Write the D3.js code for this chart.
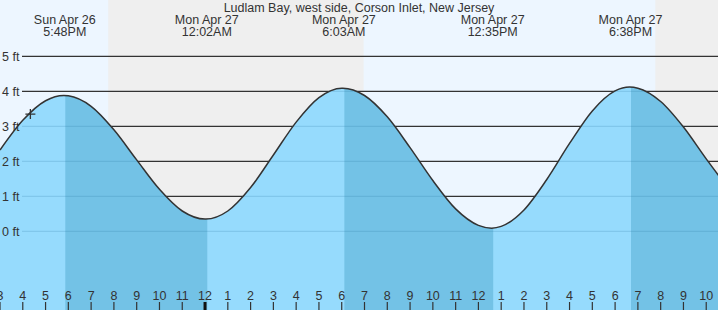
<!DOCTYPE html>
<html>
<head>
<meta charset="utf-8">
<script src="https://cdn.jsdelivr.net/npm/d3@7"></script>
<style>
  body { margin: 0; background: #fff; }
  svg { display: block; font-family: "Liberation Sans", Arial, sans-serif; }
  .lbl { fill: #333; font-size: 12.5px; }
</style>
</head>
<body>
<script>
// tide data (hourly, feet)
const tideTimes = [
  "2026-04-26T15:00", "2026-04-26T16:00", "2026-04-26T17:00", "2026-04-26T18:00",
  "2026-04-26T19:00", "2026-04-26T20:00", "2026-04-26T21:00", "2026-04-26T22:00",
  "2026-04-26T23:00", "2026-04-27T00:00", "2026-04-27T01:00", "2026-04-27T02:00",
  "2026-04-27T03:00", "2026-04-27T04:00", "2026-04-27T05:00", "2026-04-27T06:00",
  "2026-04-27T07:00", "2026-04-27T08:00", "2026-04-27T09:00", "2026-04-27T10:00",
  "2026-04-27T11:00", "2026-04-27T12:00", "2026-04-27T13:00", "2026-04-27T14:00",
  "2026-04-27T15:00", "2026-04-27T16:00", "2026-04-27T17:00", "2026-04-27T18:00",
  "2026-04-27T19:00", "2026-04-27T20:00", "2026-04-27T21:00", "2026-04-27T22:00",
  "2026-04-27T23:00"
];
const tideHeights = [
  2.32, 3.17, 3.73, 3.87,
  3.57, 2.90, 2.04, 1.20,
  0.58, 0.35, 0.58, 1.25,
  2.18, 3.12, 3.82, 4.09,
  3.88, 3.27, 2.39, 1.45,
  0.64, 0.17, 0.14, 0.61,
  1.48, 2.51, 3.44, 4.01,
  4.09, 3.71, 2.98, 2.07,
  1.20
];

// high / low tides
const eventTimes = ["2026-04-26T17:48", "2026-04-27T00:02", "2026-04-27T06:03", "2026-04-27T12:35", "2026-04-27T18:38"];
const eventHeights = [3.88, 0.35, 4.09, 0.09, 4.12];
const eventDays = ["Sun Apr 26", "Mon Apr 27", "Mon Apr 27", "Mon Apr 27", "Mon Apr 27"];
const eventLabels = ["5:48PM", "12:02AM", "6:03AM", "12:35PM", "6:38PM"];

// night (sunset -> sunrise)
const nightStart = ["2026-04-26T19:45", "2026-04-27T19:46"];
const nightEnd = ["2026-04-27T06:05", "2026-04-27T23:59"];

const feetTicks = [0, 1, 2, 3, 4, 5];
const nowTime = "2026-04-26T16:20";
const nowHeight = 3.35;
const title = "Ludlam Bay, west side, Corson Inlet, New Jersey";

const W = 718, H = 310;
const parse = d3.timeParse("%Y-%m-%dT%H:%M");

const x = d3.scaleTime()
  .domain([parse("2026-04-26T15:00"), parse("2026-04-27T22:31")])
  .range([0, W]);
const y = d3.scaleLinear()
  .domain([0, 5])
  .range([231.3, 56.3]);

let pts = tideTimes.map((t, i) => [parse(t), tideHeights[i]])
  .concat(eventTimes.map((t, i) => [parse(t), eventHeights[i]]));
pts.sort((a, b) => a[0] - b[0]);

const svg = d3.select("body").append("svg")
  .attr("width", W)
  .attr("height", H);

// day background
svg.append("rect")
  .attr("width", W).attr("height", H)
  .attr("fill", "#edf6ff");

// night bands
nightStart.forEach((s, i) => {
  svg.append("rect")
    .attr("x", x(parse(s)))
    .attr("y", 0)
    .attr("width", x(parse(nightEnd[i])) - x(parse(s)) + 20)
    .attr("height", H)
    .attr("fill", "#efefef");
});

// gridlines
svg.append("g")
  .selectAll("line")
  .data(feetTicks)
  .enter().append("line")
  .attr("x1", 22).attr("x2", W)
  .attr("y1", d => y(d)).attr("y2", d => y(d))
  .attr("stroke", "#333")
  .attr("stroke-width", 1.2);

// water
const area = d3.area()
  .x(d => x(d[0]))
  .y0(H)
  .y1(d => y(d[1]))
  .curve(d3.curveMonotoneX);
const line = d3.line()
  .x(d => x(d[0]))
  .y(d => y(d[1]))
  .curve(d3.curveMonotoneX);

svg.append("clipPath")
  .attr("id", "water")
  .append("path")
  .datum(pts)
  .attr("d", area);

const water = svg.append("g").attr("clip-path", "url(#water)");
water.append("rect")
  .attr("width", W).attr("height", H)
  .attr("fill", "#96dbfd");

// falling tide is darker (high -> next low)
for (let i = 0; i < eventTimes.length; i++) {
  if (eventHeights[i] > 2) {
    const a = x(parse(eventTimes[i])) + 1.5;
    const b = i + 1 < eventTimes.length ? x(parse(eventTimes[i + 1])) + 1.5 : W;
    water.append("rect")
      .attr("x", a).attr("y", 0)
      .attr("width", b - a).attr("height", H)
      .attr("fill", "#73c2e6");
  }
}

// faint gridlines through the water
water.append("g")
  .selectAll("line")
  .data(feetTicks)
  .enter().append("line")
  .attr("x1", 22).attr("x2", W)
  .attr("y1", d => y(d)).attr("y2", d => y(d))
  .attr("stroke", "#1f6e99")
  .attr("stroke-opacity", 0.18)
  .attr("stroke-width", 1.2);

svg.append("path")
  .datum(pts)
  .attr("d", line)
  .attr("fill", "none")
  .attr("stroke", "#333")
  .attr("stroke-width", 1.5);

// y labels
svg.append("g")
  .selectAll("text")
  .data(feetTicks)
  .enter().append("text")
  .attr("class", "lbl")
  .attr("x", 2)
  .attr("y", d => y(d) + 4.5)
  .text(d => d + " ft");

// title and tide labels
svg.append("text")
  .attr("class", "lbl")
  .attr("x", W / 2).attr("y", 11.5)
  .attr("text-anchor", "middle")
  .attr("font-size", "13.6px")
  .text(title);

eventTimes.forEach((t, i) => {
  const tx = x(parse(t)) + 1;
  svg.append("text")
    .attr("class", "lbl")
    .attr("x", tx).attr("y", 24)
    .attr("text-anchor", "middle")
    .attr("font-size", "13px")
    .text(eventDays[i]);
  svg.append("text")
    .attr("class", "lbl")
    .attr("x", tx).attr("y", 36)
    .attr("text-anchor", "middle")
    .attr("font-size", "13px")
    .text(eventLabels[i]);
});

// current time marker
const nx = x(parse(nowTime)), ny = y(nowHeight);
svg.append("path")
  .attr("d", `M${nx - 5},${ny}H${nx + 5}M${nx},${ny - 5}V${ny + 5}`)
  .attr("stroke", "#333")
  .attr("stroke-width", 1.3);

// hour axis
const hours = x.ticks(d3.timeHour.every(1));
const ax = svg.append("g");
ax.selectAll("text")
  .data(hours)
  .enter().append("text")
  .attr("class", "lbl")
  .attr("x", d => x(d))
  .attr("y", 300)
  .attr("text-anchor", "middle")
  .text(d3.timeFormat("%-I"));
ax.selectAll("line")
  .data(hours)
  .enter().append("line")
  .attr("x1", d => x(d)).attr("x2", d => x(d))
  .attr("y1", 302).attr("y2", H)
  .attr("stroke", d => d.getHours() === 0 ? "#111" : "#333")
  .attr("stroke-width", d => d.getHours() === 0 ? 3 : 1.2);
</script>
</body>
</html>
